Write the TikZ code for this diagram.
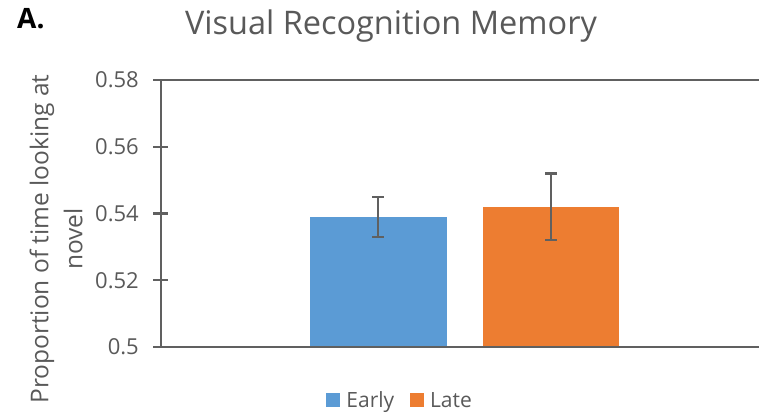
\documentclass[tikz,border=0pt]{standalone}
\usepackage{fontspec}
\setmainfont[Ligatures=NoCommon]{Open Sans}
\usetikzlibrary{positioning}
\definecolor{txtgray}{RGB}{89,89,89}
\definecolor{axgray}{RGB}{96,96,96}
\definecolor{earlyblue}{RGB}{91,155,213}
\definecolor{lateorange}{RGB}{237,125,49}
\tikzset{
  axis/.style  = {draw=axgray, line width=2.4pt},
  tick/.style  = {font=\fontsize{22}{26}\selectfont, text=txtgray,
                  anchor=east, inner sep=0pt},
  bar/.style   = {draw=none},
  errbar/.style = {draw=axgray, line width=2.2pt},
  legsq/.style = {rectangle, minimum size=14pt, inner sep=0pt, draw=none},
  legtxt/.style = {font=\fontsize{21}{25}\selectfont, text=txtgray,
                   inner sep=0pt, text height=14pt, text depth=0pt},
  declare function = {yv(\v) = 71 + (\v-0.5)*3337.5;}
}

\begin{document}
\begin{tikzpicture}[x=1pt,y=1pt]
        \useasboundingbox (0,0) rectangle (759,418);
        % title and panel letter
        \node[anchor=base west, inner sep=0pt, text=black, font=\fontsize{28}{34}\selectfont\bfseries] (panel) at (17,389) {A.};
        \node[anchor=base, inner sep=0pt, text=txtgray, font=\fontsize{32.5}{38}\selectfont] (title) at (391,383) {Visual Recognition Memory};
        % bars
        \fill[bar, earlyblue] (310,{yv(0.5)}) rectangle (447,{yv(0.539)});
        \fill[bar, lateorange] (483,{yv(0.5)}) rectangle (619,{yv(0.542)});
        % axes
        \draw[axis] (161,{yv(0.5)}) -- (161,{yv(0.58)});
        \draw[axis] (153,{yv(0.58)}) -- (759,{yv(0.58)});
        \draw[axis] (153,{yv(0.5)}) -- (759,{yv(0.5)});
        \foreach \t in {0.52,0.54,0.56}
          \draw[axis] (153,{yv(\t)}) -- (168,{yv(\t)});
        \foreach \t/\lab in {0.5/0.5,0.52/0.52,0.54/0.54,0.56/0.56,0.58/0.58}
          \node[tick] (t\lab) at (139,{yv(\t)}) {\lab};
        % error bars
        \coordinate (ehiE) at (378,{yv(0.545)});
        \coordinate (eloE) at (378,{yv(0.533)});
        \coordinate (ehiL) at (551,{yv(0.552)});
        \coordinate (eloL) at (551,{yv(0.532)});
        \draw[errbar] (ehiE) -- (eloE);
        \draw[errbar] ([xshift=-6pt]ehiE) -- ([xshift=6pt]ehiE);
        \draw[errbar] ([xshift=-6pt]eloE) -- ([xshift=6pt]eloE);
        \draw[errbar] (ehiL) -- (eloL);
        \draw[errbar] ([xshift=-6pt]ehiL) -- ([xshift=6pt]ehiL);
        \draw[errbar] ([xshift=-6pt]eloL) -- ([xshift=6pt]eloL);
        % y label
        \node[rotate=90, anchor=center, align=center, text=txtgray, inner sep=0pt,
              font=\fontsize{24.5}{34}\selectfont] (ylab) at (56,179) {Proportion of time looking at\\novel};
        % legend
        \node[legsq, fill=earlyblue] (sqE) at (333,18) {};
        \node[legtxt, right=6pt of sqE] (txtE) {Early};
        \node[legsq, fill=lateorange, right=15pt of txtE] (sqL) {};
        \node[legtxt, right=6pt of sqL] (txtL) {Late};
      \end{tikzpicture}
\end{document}
